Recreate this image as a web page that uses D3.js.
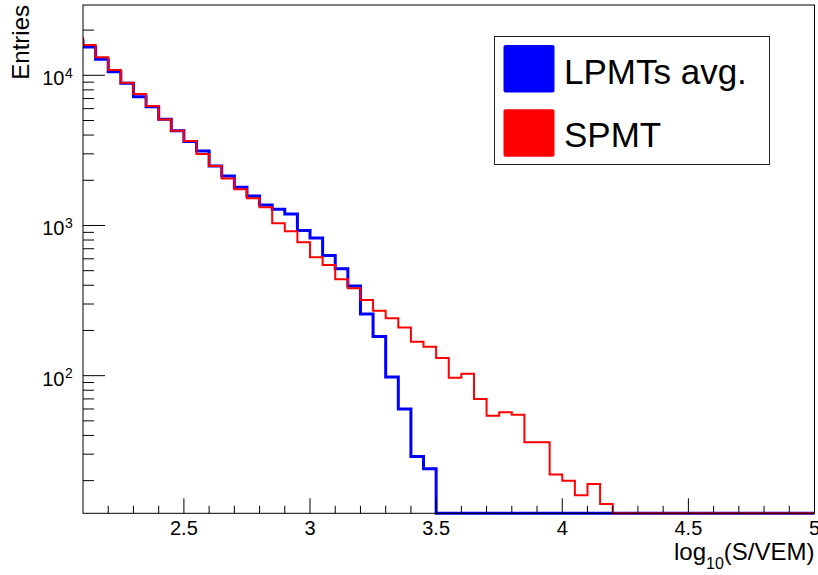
<!DOCTYPE html>
<html>
<head>
<meta charset="utf-8">
<script src="https://cdn.jsdelivr.net/npm/d3@7"></script>
<style>
  html, body { margin: 0; padding: 0; background: #fff; }
  svg { display: block; }
  text { font-family: "Liberation Sans", Arial, sans-serif; fill: #000; }
</style>
</head>
<body>
<svg id="chart" width="818" height="575"></svg>
<script>
// ---- data ----
const binStart = 2.05;   // first (partly hidden) bin low edge
const binWidth = 0.05;
const seriesNames = ["LPMTs avg.", "SPMT"];
const seriesColors = ["#0000ff", "#ff0000"];
const lpmtValues = [
  17000, 15430, 12780, 10570, 8845, 7203, 6180, 5094, 4276, 3623,
  3133, 2489, 2136, 1796, 1572, 1369, 1282, 1193, 927, 826,
  630, 516, 395, 257, 182, 98, 60, 29, 24,
  0, 0, 0, 0, 0, 0, 0, 0, 0, 0,
  0, 0, 0, 0, 0, 0, 0, 0, 0, 0,
  0, 0, 0, 0, 0, 0, 0, 0, 0, 0
];
const spmtValues = [
  17700, 15910, 13180, 10840, 8935, 7506, 6246, 5081, 4276, 3652,
  2992, 2489, 2056, 1742, 1517, 1321, 1034, 914, 772, 614,
  546, 438, 382, 319, 271, 241, 209, 168, 156, 131,
  97, 103, 70, 54, 57, 55, 36, 36, 22, 20,
  16, 19, 14,
  0, 0, 0, 0, 0, 0, 0,
  0, 0, 0, 0, 0, 0, 0, 0, 0
];
const xTickValues = [2.5, 3, 3.5, 4, 4.5, 5];
const xTickLabels = ["2.5", "3", "3.5", "4", "4.5", "5"];
const yTickExponents = [2, 3, 4];
const xDomain = [2.1, 5];
const yDomain = [12.12, 29380];
const xTitle = { main: "log", sub: "10", rest: "(S/VEM)" };
const yTitle = "Entries";

// ---- layout ----
const L = 83, R = 814.5, T = 5, B = 513.3;
const svg = d3.select("#chart");
const x = d3.scaleLinear().domain(xDomain).range([L, R]);
const y = d3.scaleLog().domain(yDomain).range([B, T]).clamp(true);

svg.append("defs").append("clipPath").attr("id", "clip")
  .append("rect").attr("x", L).attr("y", 0).attr("width", R - L).attr("height", 575);

// ---- histograms ----
function stepPoints(values) {
  const pts = [];
  values.forEach((v, i) => {
    const lo = binStart + i * binWidth, hi = lo + binWidth;
    const yy = v > 0 ? y(v) : B;
    pts.push([x(lo), yy], [x(hi), yy]);
  });
  return pts;
}
const line = d3.line();
const gh = svg.append("g").attr("clip-path", "url(#clip)");
[[lpmtValues, 0, 3], [spmtValues, 1, 2]].forEach(([vals, k, w]) => {
  gh.append("path")
    .attr("d", line(stepPoints(vals)))
    .attr("fill", "none")
    .attr("stroke", seriesColors[k])
    .attr("stroke-width", w)
    .attr("stroke-linejoin", "miter");
});

// ---- frame ----
svg.append("rect").attr("x", L).attr("y", T).attr("width", R - L).attr("height", B - T)
  .attr("fill", "none").attr("stroke", "#000").attr("stroke-width", 1);

// ---- x axis ----
const gx = svg.append("g");
const minorX = d3.range(22, 50).map(d => d / 10);
minorX.forEach(v => {
  const major = xTickValues.some(t => Math.abs(t - v) < 1e-9);
  gx.append("line").attr("x1", x(v)).attr("x2", x(v))
    .attr("y1", B).attr("y2", B - (major ? 15 : 7.5))
    .attr("stroke", "#000").attr("stroke-width", 1);
});
xTickValues.forEach((v, i) => {
  gx.append("text").attr("x", x(v)).attr("y", 534.5)
    .attr("text-anchor", "middle").attr("font-size", 20).text(xTickLabels[i]);
});
const xt = svg.append("text").attr("x", R).attr("y", 560)
  .attr("text-anchor", "end").attr("font-size", 24);
xt.append("tspan").text(xTitle.main);
xt.append("tspan").attr("font-size", 16).attr("dy", 9).text(xTitle.sub);
xt.append("tspan").attr("dy", -9).text(xTitle.rest);

// ---- y axis ----
const gy = svg.append("g");
const lo = Math.floor(Math.log10(yDomain[0])), hi = Math.ceil(Math.log10(yDomain[1]));
for (let e = lo; e <= hi; e++) {
  for (let m = 1; m <= 9; m++) {
    const v = m * Math.pow(10, e);
    if (v < yDomain[0] || v > yDomain[1]) continue;
    const len = m === 1 ? 22 : 11;
    gy.append("line").attr("x1", L).attr("x2", L + len)
      .attr("y1", y(v)).attr("y2", y(v))
      .attr("stroke", "#000").attr("stroke-width", 1);
  }
}
yTickExponents.forEach(e => {
  const yy = y(Math.pow(10, e));
  const t = gy.append("text").attr("x", 64.5).attr("y", yy + 10)
    .attr("text-anchor", "end").attr("font-size", 20).text("10");
  gy.append("text").attr("x", 65).attr("y", yy + 2.5)
    .attr("font-size", 14).text(String(e));
});
svg.append("text")
  .attr("transform", "translate(29,5) rotate(-90)")
  .attr("text-anchor", "end").attr("font-size", 24).text(yTitle);

// ---- legend ----
const lg = svg.append("g");
lg.append("rect").attr("x", 494.5).attr("y", 36.5).attr("width", 275).attr("height", 128)
  .attr("fill", "#fff").attr("stroke", "#222").attr("stroke-width", 1);
seriesNames.forEach((name, i) => {
  const top = i === 0 ? 45 : 109.3;
  lg.append("rect").attr("x", 503.5).attr("y", top).attr("width", 51).attr("height", 47.5)
    .attr("rx", 2).attr("fill", seriesColors[i]);
  lg.append("text").attr("x", 564).attr("y", i === 0 ? 83.5 : 147)
    .attr("font-size", 35).text(name);
});
</script>
</body>
</html>
